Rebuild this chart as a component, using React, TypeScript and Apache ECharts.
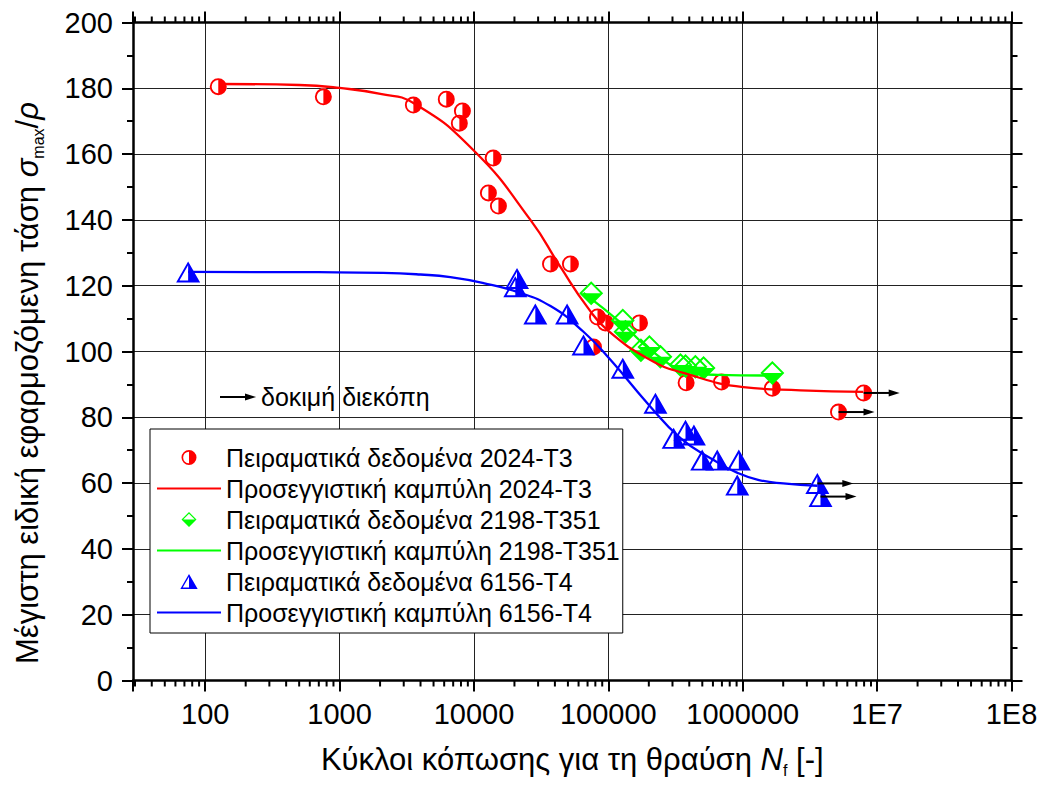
import React, { useEffect, useRef } from 'react';
import * as echarts from 'echarts';

const FONT = 'Arial, "Liberation Sans", sans-serif';

// axis
const xMin = 29;
const xMax = 1e8;
const xTickLabels = ['100', '1000', '10000', '100000', '1000000', '1E7', '1E8'];
const minorDecades = [10, 100, 1000, 10000, 100000, 1000000, 10000000];
const minorMultipliers = [2, 3, 4, 5, 6, 7, 8, 9];

const legendNames = [
  'Πειραματικά δεδομένα 2024-T3',
  'Προσεγγιστική καμπύλη 2024-T3',
  'Πειραματικά δεδομένα 2198-T351',
  'Προσεγγιστική καμπύλη 2198-T351',
  'Πειραματικά δεδομένα 6156-T4',
  'Προσεγγιστική καμπύλη 6156-T4',
];

// 2024-T3 experimental
const redN = [125, 757, 3540, 6220, 7780, 8200, 12800, 13900, 15200, 37100, 52200, 77500, 83000, 95000, 170500, 379000, 695000, 1660000, 5160000, 7940000];
const redS = [180.5, 177.4, 174.9, 176.7, 169.4, 173.1, 148.2, 158.8, 144.2, 126.6, 126.6, 101.4, 110.5, 108.7, 108.7, 90.5, 90.7, 88.8, 81.6, 87.4];
// 2024-T3 fitted curve
const redCurveN = [129, 500, 1000, 2010, 3540, 10000, 26300, 44000, 69800, 98400, 205600, 362000, 1010000, 2690000, 7900000];
const redCurveS = [181.3, 181.0, 180.1, 178.3, 175.5, 161.0, 140.0, 125.7, 113.5, 106.5, 97.4, 93.5, 89.2, 88.2, 87.7];

// 2198-T351 experimental
const greenN = [74500, 128000, 134000, 174600, 202000, 244000, 344000, 375000, 444000, 511000, 1660000];
const greenS = [117.7, 109.4, 106.0, 100.4, 101.4, 98.4, 95.9, 95.6, 95.4, 95.0, 93.5];
const greenCurveN = [65300, 130000, 205600, 362000, 649000, 1610000];
const greenCurveS = [117.8, 108.0, 100.5, 94.4, 92.9, 92.7];

// 6156-T4 experimental
const blueN = [74.6, 20900, 20300, 28600, 49300, 65300, 128000, 224000, 306000, 375000, 433000, 499000, 646000, 935000, 910000, 3590000, 3790000];
const blueS = [124.2, 122.2, 119.7, 111.4, 111.4, 102.0, 94.9, 84.3, 73.6, 76.1, 74.6, 67.0, 67.0, 67.0, 59.4, 59.9, 55.9];
const blueCurveN = [74.6, 700, 2110, 4000, 6670, 11750, 21000, 37100, 65300, 104000, 195000, 344000, 607000, 914000, 1300000, 2000000, 3600000];
const blueCurveS = [124.2, 124.1, 123.9, 123.4, 122.6, 120.8, 118.1, 113.8, 106.0, 97.4, 84.3, 73.7, 67.0, 63.1, 61.0, 59.9, 59.2];

// run-outs (test interrupted)
const runoutN = [7940000, 5160000, 3590000, 3790000];
const runoutS = [87.4, 81.6, 59.9, 55.9];

const CIRCLE_HALF = 'path://M10 0 A10 10 0 0 1 10 20 A10 10 0 0 1 10 0 Z M10 2.2 A7.8 7.8 0 0 0 10 17.8 Z';
const DIAMOND_HALF = 'path://M10 0 L20 10 L10 20 L0 10 Z M10 2.3 L2.3 10 L17.7 10 Z';
const TRIANGLE_HALF = 'path://M10 0 L20 17.3 L0 17.3 Z M10 3.2 L2.77 15.7 L10 15.7 Z';

const zip = (a: number[], b: number[]) => a.map((v, i) => [v, b[i]]);

export default function App() {
  const ref = useRef<HTMLDivElement>(null);
  useEffect(() => {
    if (!ref.current) return;
    const chart = echarts.init(ref.current, undefined, { renderer: 'svg' });

    const minorTicks: number[][] = [];
    minorDecades.forEach((d) => minorMultipliers.forEach((m) => {
      const v = d * m;
      if (v >= xMin && v <= xMax) minorTicks.push([v, 0]);
    }));

    const axisLineStyle = { color: '#000', width: 2.5 };
    const tickStyle = { color: '#000', width: 2 };
    const xLabelFmt = (v: number) => {
      const e = Math.log10(v);
      const r = Math.round(e);
      if (Math.abs(e - r) < 1e-6 && r >= 2 && r <= 8) return xTickLabels[r - 2];
      return '';
    };

    const scatterBg = (data: number[][], symbol: string, size: any) => ({
      type: 'scatter', data, symbol, symbolSize: size, silent: true, z: 2,
      itemStyle: { color: '#fff', opacity: 1 },
    });
    const scatter = (name: string, data: number[][], symbol: string, size: any, color: string) => ({
      type: 'scatter', name, data, symbol, symbolSize: size, z: 3,
      itemStyle: { color, opacity: 1 },
    });
    const curve = (name: string, data: number[][], color: string) => ({
      type: 'line', name, data, symbol: 'none', smooth: 0.5, z: 4,
      lineStyle: { color, width: 2.3 }, itemStyle: { color },
    });

    const redPts = zip(redN, redS);
    const greenPts = zip(greenN, greenS);
    const bluePts = zip(blueN, blueS);

    const hiddenIcon = { opacity: 0, color: 'transparent', borderWidth: 0 };

    const option: any = {
      animation: false,
      backgroundColor: '#fff',
      grid: { left: 133, right: 34.5, top: 22.5, bottom: 106.5, outerBoundsMode: 'none' },
      xAxis: [
        {
          type: 'log', logBase: 10, min: xMin, max: xMax, position: 'bottom',
          axisLine: { show: true, onZero: false, lineStyle: axisLineStyle },
          axisTick: { show: true, inside: false, length: 11, lineStyle: tickStyle },
          axisLabel: { show: true, formatter: xLabelFmt, fontSize: 29, color: '#000', fontFamily: FONT, margin: 19, showMinLabel: true, showMaxLabel: true, hideOverlap: false },
          splitLine: { show: true, lineStyle: { color: '#222', width: 1 } },
          name: '{t|Κύκλοι κόπωσης για τη θραύση }{i|N}{s|f}{t| [-]}',
          nameLocation: 'middle', nameGap: 60,
          nameTextStyle: {
            color: '#000',
            rich: {
              t: { fontSize: 31, fontFamily: FONT, color: '#000', lineHeight: 38 },
              i: { fontSize: 31, fontFamily: FONT, fontStyle: 'italic', color: '#000', lineHeight: 38 },
              s: { fontSize: 16, fontFamily: FONT, color: '#000', lineHeight: 16, verticalAlign: 'bottom' },
            },
          },
        },
        {
          type: 'log', logBase: 10, min: xMin, max: xMax, position: 'top',
          axisLine: { show: true, onZero: false, lineStyle: axisLineStyle },
          axisTick: { show: true, inside: false, length: 11, lineStyle: tickStyle },
          axisLabel: { show: false },
          splitLine: { show: false },
        },
      ],
      yAxis: [
        {
          type: 'value', min: 0, max: 200, interval: 20, position: 'left',
          axisLine: { show: true, onZero: false, lineStyle: axisLineStyle },
          axisTick: { show: true, inside: false, length: 11, lineStyle: tickStyle },
          minorTick: { show: true, splitNumber: 2, length: 6, lineStyle: tickStyle },
          axisLabel: { fontSize: 29, color: '#000', fontFamily: FONT, margin: 20 },
          splitLine: { show: true, lineStyle: { color: '#222', width: 1 } },
        },
        {
          type: 'value', min: 0, max: 200, interval: 20, position: 'right',
          axisLine: { show: true, onZero: false, lineStyle: axisLineStyle },
          axisTick: { show: true, inside: false, length: 11, lineStyle: tickStyle },
          minorTick: { show: true, splitNumber: 2, length: 6, lineStyle: tickStyle },
          axisLabel: { show: false },
          splitLine: { show: false },
        },
      ],
      legend: {
        orient: 'vertical', left: 150, top: 429,
        data: legendNames.map((n, i) => (i % 2 === 1 ? { name: n, itemStyle: hiddenIcon } : { name: n })),
        itemWidth: 64, itemHeight: 15, itemGap: 6,
        padding: [16, 3, 8, 6],
        borderColor: '#000', borderWidth: 1, backgroundColor: '#fff',
        selectedMode: false, z: 10,
        textStyle: { fontSize: 25, color: '#000', fontFamily: FONT, lineHeight: 25 },
      },
      graphic: [
        {
          type: 'text', x: 27, y: 383, rotation: Math.PI / 2,
          style: {
            text: '{t|Μέγιστη ειδική εφαρμοζόμενη τάση }{i|σ}{s|max}{t|/}{i|ρ}',
            align: 'center', verticalAlign: 'middle', fill: '#000',
            rich: {
              t: { fontSize: 31, fontFamily: FONT, fill: '#000', lineHeight: 38 },
              i: { fontSize: 31, fontFamily: FONT, fontStyle: 'italic', fill: '#000', lineHeight: 38 },
              s: { fontSize: 16, fontFamily: FONT, fill: '#000', lineHeight: 16, verticalAlign: 'bottom' },
            },
          },
        },
        { type: 'line', shape: { x1: 220, y1: 397, x2: 247, y2: 397 }, style: { stroke: '#000', lineWidth: 2 } },
        { type: 'polygon', shape: { points: [[245, 393.5], [256, 397], [245, 400.5]] }, style: { fill: '#000' } },
        { type: 'text', x: 261, y: 397, style: { text: 'δοκιμή διεκόπη', fontSize: 25, fontFamily: FONT, fill: '#000', verticalAlign: 'middle', align: 'left' } },
      ],
      series: [
        scatterBg(redPts, 'circle', 17),
        scatterBg(greenPts, 'diamond', 24),
        scatterBg(bluePts, 'triangle', [24, 21]),
        scatter(legendNames[0], redPts, CIRCLE_HALF, 17, '#ff0000'),
        scatter(legendNames[2], greenPts, DIAMOND_HALF, 24, '#00ff00'),
        scatter(legendNames[4], bluePts, TRIANGLE_HALF, [24, 21], '#0000ff'),
        curve(legendNames[1], zip(redCurveN, redCurveS), '#ff0000'),
        curve(legendNames[3], zip(greenCurveN, greenCurveS), '#00ff00'),
        curve(legendNames[5], zip(blueCurveN, blueCurveS), '#0000ff'),
        {
          type: 'custom', name: 'runouts', data: zip(runoutN, runoutS), z: 6, clip: false, silent: true,
          renderItem: (params: any, api: any) => {
            const p = api.coord([api.value(0), api.value(1)]);
            const x0 = p[0];
            const y0 = p[1];
            return {
              type: 'group',
              children: [
                { type: 'line', shape: { x1: x0, y1: y0, x2: x0 + 27, y2: y0 }, style: { stroke: '#000', lineWidth: 2 } },
                { type: 'polygon', shape: { points: [[x0 + 25, y0 - 3.5], [x0 + 36, y0], [x0 + 25, y0 + 3.5]] }, style: { fill: '#000' } },
              ],
            };
          },
        },
        {
          type: 'custom', name: 'minorTicks', data: minorTicks, z: 6, clip: false, silent: true,
          renderItem: (params: any, api: any) => {
            const n = api.value(0);
            const b = api.coord([n, 0]);
            const t = api.coord([n, 200]);
            return {
              type: 'group',
              children: [
                { type: 'line', shape: { x1: b[0], y1: b[1], x2: b[0], y2: b[1] + 6 }, style: { stroke: '#000', lineWidth: 2 } },
                { type: 'line', shape: { x1: t[0], y1: t[1], x2: t[0], y2: t[1] - 6 }, style: { stroke: '#000', lineWidth: 2 } },
              ],
            };
          },
        },
      ],
    };
    chart.setOption(option);
    return () => chart.dispose();
  }, []);
  return <div ref={ref} style={{ position: 'fixed', left: 0, top: 0, width: 1046, height: 787, background: '#fff' }} />;
}
